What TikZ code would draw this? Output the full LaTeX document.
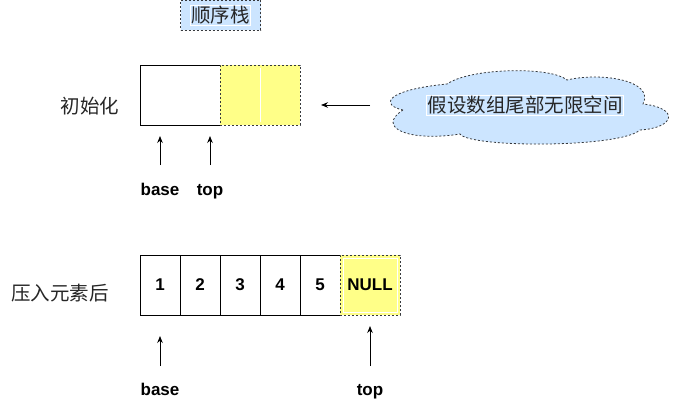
\documentclass[tikz,border=0pt]{standalone}
\usepackage{fontspec}
\setmainfont{Liberation Sans}
\newfontfamily\cjk{Noto Sans CJK SC}
\usetikzlibrary{arrows.meta}
\definecolor{sblue}{HTML}{CCE5FF}
\definecolor{syellow}{HTML}{FFFF88}
\definecolor{sgrey}{HTML}{36393D}
\begin{document}
\begin{tikzpicture}[x=1bp,y=-1bp,
  cjktext/.style={font=\cjk\fontsize{19.5bp}{22bp}\selectfont, text=black!85, inner sep=1bp},
  framedtext/.style={cjktext, draw=white, line width=0.8bp},
  boldlbl/.style={font=\bfseries\fontsize{17bp}{20bp}\selectfont, inner sep=0pt, anchor=base},
  cell/.style={draw=black, line width=0.8bp, fill=white, minimum width=40bp, minimum height=60bp, inner sep=0pt, outer sep=0pt, font=\bfseries\fontsize{17bp}{20bp}\selectfont},
  ycell/.style={draw=sgrey, dashed, dash pattern=on 2bp off 2bp, line width=0.8bp, fill=syellow, inner sep=0pt, outer sep=0pt},
  dashedge/.style={draw=sgrey, dash pattern=on 2bp off 2bp, line width=0.8bp},
  arr/.style={-{Stealth[length=7bp,width=5.5bp]}, line width=0.8bp, black}
]
\useasboundingbox (0,0) rectangle (681,417);

% title
\node[dashedge, fill=sblue, minimum width=80bp, minimum height=30bp, inner sep=0pt] (title) at (220.5,15) {};
\node[framedtext] (titletext) at (title.center) {顺序栈};

% --- initial ---
\node[cjktext] (initlbl) at (90,106) {初始化};
\node[cell, minimum width=80bp] (c0) at (180,95) {};
\node[ycell, minimum width=80bp, minimum height=60bp] (cy) at (260,95) {};
\coordinate (wl1) at (260.5,68);
\coordinate (wl2) at (260.5,122);
\draw[white, line width=1.6bp] (wl1) -- (wl2);

\coordinate (ba1t) at (160,165);
\coordinate (ba1h) at (160,136);
\coordinate (to1t) at (210,165);
\coordinate (to1h) at (210,136);
\draw[arr] (ba1t) -- (ba1h);
\draw[arr] (to1t) -- (to1h);
\node[boldlbl] (base1) at (160,195) {base};
\node[boldlbl] (top1) at (210,195) {top};

% cloud
\path[dashedge, fill=sblue]
  (403,110) .. controls (380,105) and (385,90) .. (447,84)
  .. controls (470,68) and (550,66) .. (567,80)
  .. controls (600,72) and (655,80) .. (643,104)
  .. controls (680,108) and (675,128) .. (640,130)
  .. controls (620,148) and (470,148) .. (460,134)
  .. controls (410,142) and (375,128) .. (403,110) -- cycle;
\node[framedtext] (cloudtext) at (525,105.5) {假设数组尾部无限空间};
\coordinate (ct) at (370,105);
\coordinate (ch) at (321,105);
\draw[arr] (ct) -- (ch);

% --- after push ---
\node[cjktext] (pushlbl) at (60,293) {压入元素后};
\node[cell] (e1) at (160,285) {1};
\node[cell] (e2) at (200,285) {2};
\node[cell] (e3) at (240,285) {3};
\node[cell] (e4) at (280,285) {4};
\node[cell] (e5) at (320,285) {5};
\node[ycell, minimum width=60bp, minimum height=60bp] (enull) at (370,285) {};
\node[draw=white, line width=0.8bp, minimum width=54bp, minimum height=54bp, inner sep=0pt, font=\bfseries\fontsize{17bp}{20bp}\selectfont] (nulltext) at (enull.center) {NULL};

\coordinate (ba2t) at (160,366);
\coordinate (ba2h) at (160,336);
\coordinate (to2t) at (370,366);
\coordinate (to2h) at (370,326);
\draw[arr] (ba2t) -- (ba2h);
\draw[arr] (to2t) -- (to2h);
\node[boldlbl] (base2) at (160,395) {base};
\node[boldlbl] (top2) at (370,395) {top};
\end{tikzpicture}
\end{document}
